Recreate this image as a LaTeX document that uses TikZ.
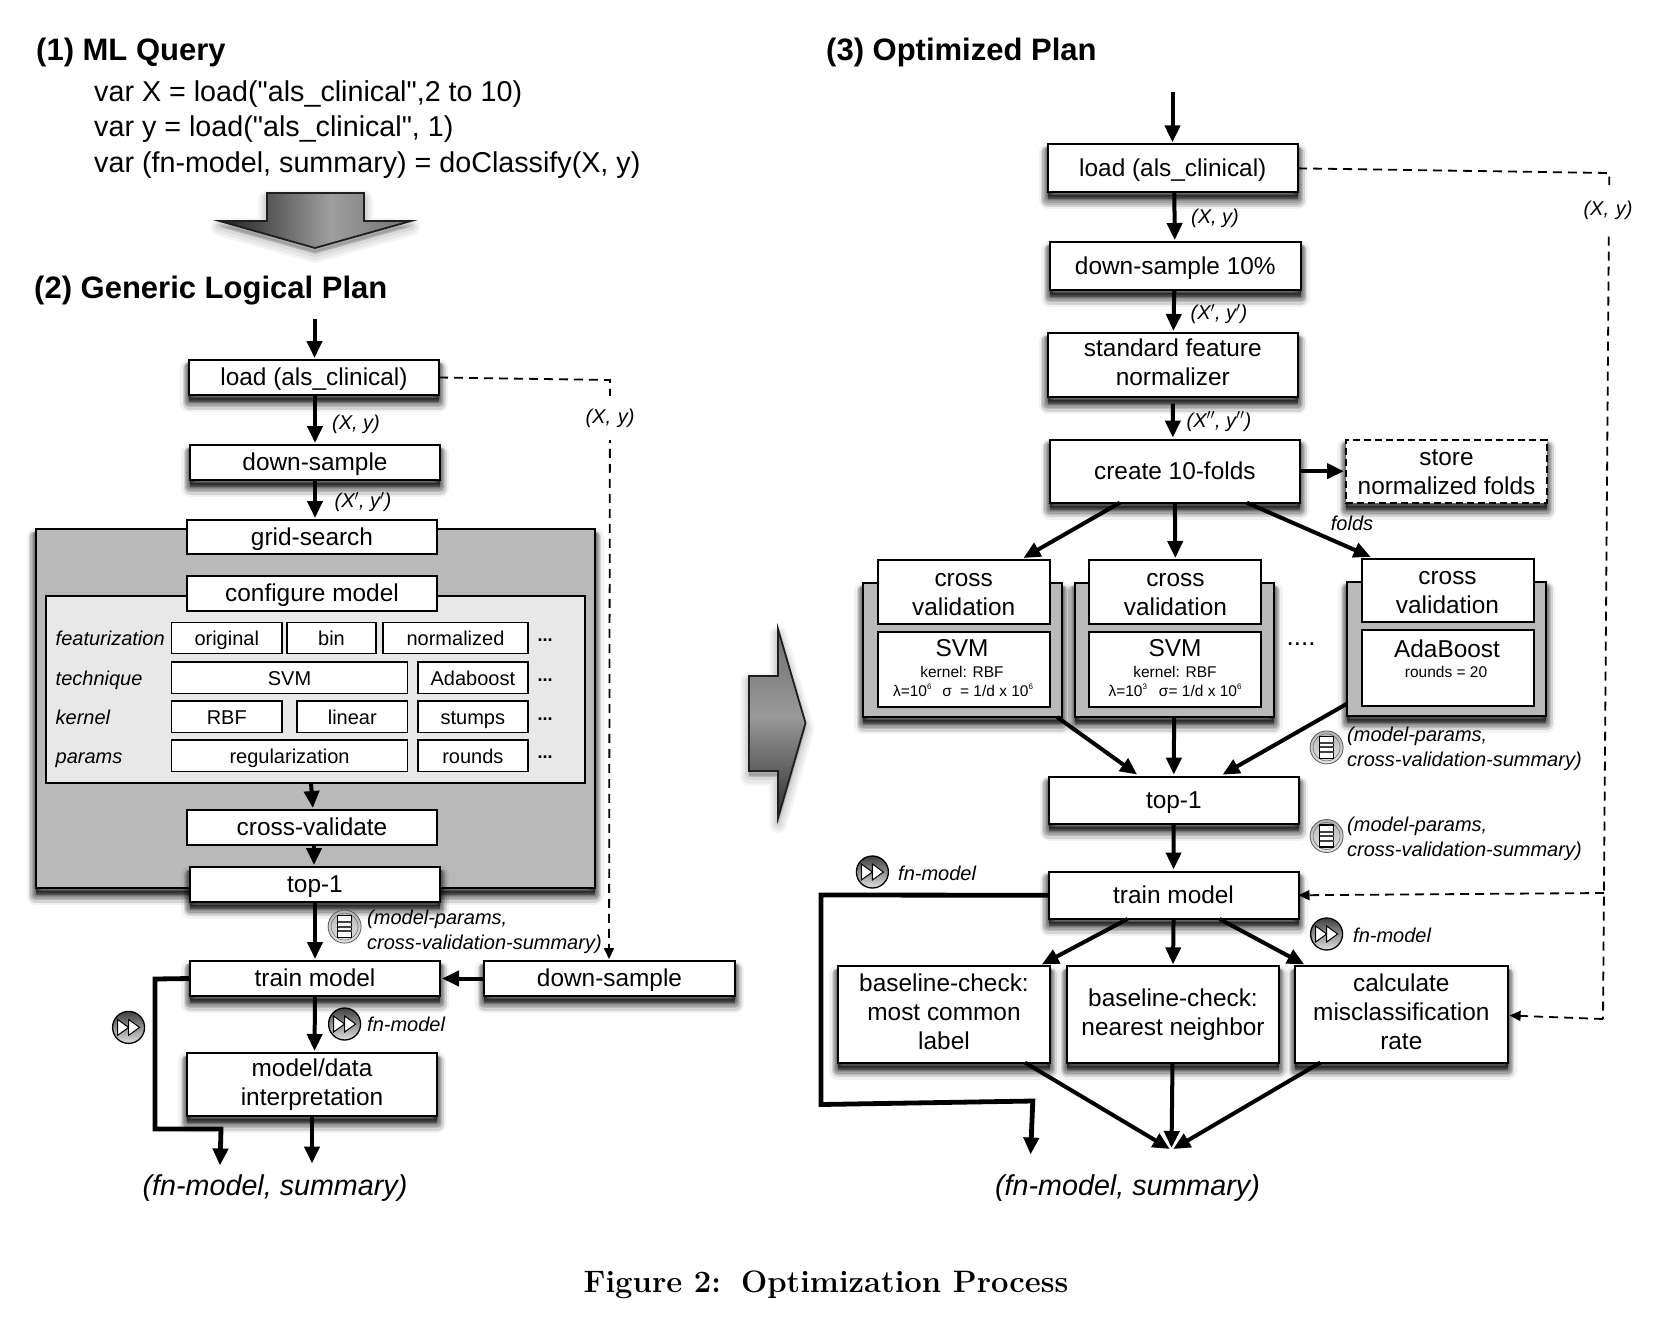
\documentclass[tikz,border=0pt]{standalone}
\usepackage{fontspec}
\usetikzlibrary{arrows.meta,shadings,calc}
\newfontfamily\hv{Liberation Sans}
\definecolor{groupgrey}{HTML}{B9B9B9}
\definecolor{panelgrey}{HTML}{E8E8E8}
\pgfdeclarehorizontalshading{downshade}{100bp}{color(0bp)=(black!88);color(25bp)=(black!88);color(54bp)=(black!38);color(75bp)=(black!56);color(100bp)=(black!56)}
\pgfdeclareverticalshading{rightshade}{100bp}{color(0bp)=(black!82);color(25bp)=(black!82);color(52bp)=(black!40);color(75bp)=(black!56);color(100bp)=(black!56)}
\newcommand\lnstrut{\rule[-.22em]{0pt}{1.1em}}
\newcommand\optstrut{\rule[-.25em]{0pt}{1.25em}}
\newcommand\tallone{\rule{0pt}{.96em}}
\newcommand\supr[1]{\raisebox{.42em}{\fontsize{8}{8}\selectfont #1}}
\tikzset{
  x=1pt,y=-1pt,
  softshadow/.style={
    preaction={solid,draw=black,fill=black,opacity=.05,line width=18pt,line join=round,transform canvas={yshift=-8pt}},
    preaction={solid,draw=black,fill=black,opacity=.12,line width=13pt,line join=round,transform canvas={yshift=-8pt}},
    preaction={solid,draw=black,fill=black,opacity=.12,line width=10.5pt,line join=round,transform canvas={yshift=-7pt}},
    preaction={solid,draw=black,fill=black,opacity=.12,line width=8pt,line join=round,transform canvas={yshift=-7pt}},
    preaction={solid,draw=black,fill=black,opacity=.12,line width=6pt,line join=round,transform canvas={yshift=-6pt}},
    preaction={solid,draw=black,fill=black,opacity=.12,line width=4pt,line join=round,transform canvas={yshift=-5pt}},
    preaction={solid,draw=black,fill=black,opacity=.14,line width=2pt,line join=round,transform canvas={yshift=-4pt}}},
  arrowshadow/.style={
    preaction={draw=black,fill=black,opacity=.04,line width=18pt,line join=round,transform canvas={yshift=-6pt}},
    preaction={draw=black,fill=black,opacity=.05,line width=13pt,line join=round,transform canvas={yshift=-6pt}},
    preaction={draw=black,fill=black,opacity=.06,line width=8pt,line join=round,transform canvas={yshift=-5pt}},
    preaction={draw=black,fill=black,opacity=.08,line width=3pt,line join=round,transform canvas={yshift=-4pt}}},
  box/.style={draw=black,fill=white,line width=2pt,inner sep=0pt,outer sep=0pt,align=center,
    font=\hv\fontsize{24.4}{29}\selectfont,execute at begin node={\lnstrut},execute at end node={\lnstrut}},
  sbox/.style={box,softshadow},
  optbox/.style={box,line width=1.6pt,font=\hv\fontsize{20}{24}\selectfont,execute at begin node={\optstrut},execute at end node={\optstrut}},
  group/.style={draw=black,fill=groupgrey,line width=2pt,inner sep=0pt,outer sep=0pt,softshadow},
  panel/.style={draw=black,fill=panelgrey,line width=1.6pt,inner sep=0pt,outer sep=0pt},
  lab/.style={inner sep=0pt,font=\hv\itshape\fontsize{20}{25}\selectfont,align=left},
  optlab/.style={lab,anchor=base west},
  moredots/.style={inner sep=0pt,font=\hv\bfseries\fontsize{18}{20}\selectfont},
  head/.style={inner sep=0pt,anchor=west,font=\hv\bfseries\fontsize{31}{34}\selectfont},
  codeline/.style={inner sep=0pt,anchor=west,font=\hv\fontsize{28.7}{32}\selectfont},
  result/.style={inner sep=0pt,font=\hv\itshape\fontsize{28.7}{34}\selectfont},
  incell/.style={inner sep=0pt,font=\hv\fontsize{24.4}{28}\selectfont},
  cellsmall/.style={inner sep=0pt,font=\hv\fontsize{15.5}{18}\selectfont},
  flow/.style={draw=black,line width=4pt,-{Triangle[length=17pt,width=15pt]},shorten >=2pt},
  heavy/.style={draw=black,line width=4.8pt,-{Triangle[length=17pt,width=15pt]},line join=miter},
  dashflow/.style={draw=black,line width=1.8pt,dash pattern=on 9pt off 6pt},
  dashhead/.style={-{Triangle[length=11pt,width=10pt]}},
  bigarrow/.style={draw=black!88,line width=1.8pt,line join=miter},
  iconff/.style={circle,draw=black,line width=1.3pt,minimum size=32pt,inner sep=0pt,top color=black!75,bottom color=black!12},
  iconls/.style={circle,draw=black!65,line width=.8pt,minimum size=33pt,inner sep=0pt,top color=black!30,bottom color=black!10},
  ffmark/.style={draw=black,fill=white,line width=1pt,line join=miter},
}
\newcommand\bx[7][box]{%
  \pgfmathsetmacro\bxw{#5-#3}\pgfmathsetmacro\bxh{#6-#4}%
  \pgfmathsetmacro\bxx{(#3+#5)/2}\pgfmathsetmacro\bxy{(#4+#6)/2}%
  \node[#1,minimum width=\bxw pt,minimum height=\bxh pt] (#2) at (\bxx,\bxy) {#7};}
\newcommand\ffic[3]{%
  \node[iconff] (#1) at (#2,#3) {};
  \draw[ffmark] ([xshift=-11pt,yshift=8pt]#1.center) -- ([xshift=0pt]#1.center) -- ([xshift=-11pt,yshift=-8pt]#1.center) -- cycle;
  \draw[ffmark] ([xshift=0pt,yshift=8pt]#1.center) -- ([xshift=11pt]#1.center) -- ([xshift=0pt,yshift=-8pt]#1.center) -- cycle;}
\newcommand\lsic[3]{%
  \node[iconls] (#1) at (#2,#3) {};
  \draw[draw=black!55,line width=.6pt] (#1.center) circle (13.5pt);
  \draw[draw=black,fill=white,line width=1.6pt] ([xshift=-7pt,yshift=11pt]#1.center) rectangle ([xshift=7pt,yshift=-11pt]#1.center);
  \fill[black!75] ([xshift=-7pt,yshift=5.5pt]#1.center) rectangle ([xshift=7pt,yshift=3.5pt]#1.center);
  \fill[black!75] ([xshift=-7pt,yshift=1pt]#1.center) rectangle ([xshift=7pt,yshift=-1pt]#1.center);
  \fill[black!75] ([xshift=-7pt,yshift=-3.5pt]#1.center) rectangle ([xshift=7pt,yshift=-5.5pt]#1.center);}
\begin{document}
\begin{tikzpicture}
\useasboundingbox (0,0) rectangle (1660,1328);
\fill[white] (0,0) rectangle (1660,1328);

% ---------- titles and query
\node[head] (t1) at (36,52.5) {(1) ML Query};
\node[codeline] (c1) at (94,94) {var X = load("als\_clinical",2 to 10)};
\node[codeline] (c2) at (94,129.5) {var y = load("als\_clinical", 1)};
\node[codeline] (c3) at (94,165.5) {var (fn-model, summary) = doClassify(X, y)};
\node[head] (t2) at (34,291) {(2) Generic Logical Plan};
\node[head] (t3) at (826,52.5) {(3) Optimized Plan};

% ---------- big arrows
\path[arrowshadow,fill=black] (267,193) -- (364,193) -- (364,221) -- (411,221) -- (315,248) -- (219.5,221) -- (267,221) -- cycle;
\draw[bigarrow,shading=downshade]
  (267,193) -- (364,193) -- (364,221) -- (411,221) -- (315,248) -- (219.5,221) -- (267,221) -- cycle;
\path[arrowshadow,fill=black] (778,629) -- (805.5,723) -- (778,818) -- (778,771) -- (749,771) -- (749,676) -- (778,676) -- cycle;
\draw[bigarrow,shading=rightshade]
  (778,629) -- (805.5,723) -- (778,818) -- (778,771) -- (749,771) -- (749,676) -- (778,676) -- cycle;

% ---------- left plan: grey grid-search block
\bx[group]{gridblock}{35.5}{529}{594.5}{888}{}
\bx[panel]{cfgpanel}{46}{596}{585}{783}{}
\bx{grid}{187}{520}{437}{554}{grid-search}
\bx{cfg}{187}{576}{437}{611}{configure model}

\node[optlab] (lf) at (55.5,645) {featurization};
\node[optlab] (lt) at (55.5,685) {technique};
\node[optlab] (lk) at (55.5,724) {kernel};
\node[optlab] (lp) at (55.5,763) {params};
\bx[optbox]{o1}{171.5}{622.5}{282}{653.5}{original}
\bx[optbox]{o2}{287}{622.5}{376}{653.5}{bin}
\bx[optbox]{o3}{383}{622.5}{528}{653.5}{normalized}
\bx[optbox]{o4}{171.5}{662}{407.6}{693.6}{SVM}
\bx[optbox]{o5}{417.7}{662}{528}{693.6}{Adaboost}
\bx[optbox]{o6}{171.5}{701}{282}{732.6}{RBF}
\bx[optbox]{o7}{297}{701}{407.6}{732.6}{linear}
\bx[optbox]{o8}{417.7}{701}{528}{732.6}{stumps}
\bx[optbox]{o9}{171.5}{740}{407.6}{771.6}{regularization}
\bx[optbox]{o10}{417.7}{740}{528}{771.6}{rounds}
\node[moredots] (d1) at (545,640.5) {...};
\node[moredots] (d2) at (545,680.5) {...};
\node[moredots] (d3) at (545,719) {...};
\node[moredots] (d4) at (545,757.5) {...};

\bx{cv}{187}{810}{437}{845}{cross-validate}
\bx[sbox]{top}{190}{867}{440}{901.5}{top-1}

% left plan: other boxes
\bx[sbox]{load}{189}{360}{439}{395}{load (als\_clinical)}
\bx[sbox]{ds}{190}{445}{440}{480}{down-sample}
\bx[sbox]{train}{190}{961}{440}{996}{train model}
\bx[sbox]{dstwo}{484}{961}{735}{996}{down-sample}
\bx[sbox]{interp}{187}{1053}{437}{1116}{model/data\\[0pt]interpretation}

\coordinate (entry) at (314.5,318.5);
\coordinate (outa) at (220,1165.5);
\coordinate (outb) at (312,1165.5);
\coordinate (bend1) at (155,979);
\coordinate (bend2) at (155,1129);
\coordinate (bend3) at (221,1129);
\coordinate (dcorner) at (610,380);

\draw[flow] (entry) -- (load.north -| entry);
\draw[flow] (load.south) ++(1,0) -- ([xshift=0pt]ds.north);
\draw[flow] (ds.south) -- ([xshift=0pt]ds.south |- grid.north);
\draw[flow] (cfgpanel.south -| cfg.south) ++(-1,0) -- ([xshift=1pt]cv.north);
\draw[flow] ([xshift=2pt]cv.south) -- ([xshift=-1pt]top.north);
\draw[flow] (top.south) -- (train.north);
\draw[flow] (train.south) -- ([xshift=2.5pt]interp.north);
\draw[flow] (interp.south) -- (outb);
\draw[flow] (dstwo.west) -- (train.east);
\draw[heavy] (train.west) -- (bend1) -- (bend2) -- (bend3) -- (outa);
\draw[dashflow,dashhead,shorten >=2pt] (load.east) -- (dcorner) -- ([xshift=-.5pt]dstwo.north);

\node[lab,fill=white,minimum height=44pt,text width=54pt,align=center] (lx1) at (610,418) {(X, y)};
\node[lab] (lx2) at (356,424) {(X, y)};
\node[lab] (lx3) at (363,502) {(X$'$, y$'$)};
\lsic{iA}{344.6}{926.6}
\node[lab,anchor=north west] (lm1) at (367,910) {(model-params,\\cross-validation-summary)};
\ffic{iB}{128.6}{1027.4}
\ffic{iC}{344.6}{1024}
\node[lab,anchor=west] (lfn) at (367,1024.5) {fn-model};
\node[result] (resl) at (275,1188) {(fn-model, summary)};

% ---------- right plan: main column
\bx[sbox]{rload}{1047.6}{144.4}{1298}{192.3}{load (als\_clinical)}
\bx[sbox]{rds}{1050}{242}{1300.6}{290}{down-sample 10\%}
\bx[sbox]{rnorm}{1047.6}{333}{1298}{397}{standard feature\\[0pt]normalizer}
\bx[sbox]{rfold}{1049.7}{439.6}{1300}{502.7}{create 10-folds}
\bx[sbox,dash pattern=on 7pt off 4pt]{rstore}{1346}{439.6}{1547}{502.7}{\tallone store\\[0pt]normalized folds}

% cross-validation groups
\bx[group]{g1}{863}{583}{1062}{717}{}
\bx{cv1}{877.6}{560}{1049.7}{623.5}{\tallone cross\\[0pt]validation}
\bx{m1}{877.6}{631.5}{1049.7}{707}{}
\node[incell] (m1a) at (962,648) {SVM};
\node[cellsmall] (m1b) at (962,671.5) {kernel: RBF};
\node[cellsmall] (m1c) at (963,690.5) {λ=10\supr{6}\hspace{11pt}σ\hspace{8pt}= 1/d x 10\supr{6}};

\bx[group]{g2}{1074.6}{583}{1273.6}{717}{}
\bx{cv2}{1089.4}{560}{1261.4}{623.5}{\tallone cross\\[0pt]validation}
\bx{m2}{1089.4}{631.5}{1261.4}{707}{}
\node[incell] (m2a) at (1175,648) {SVM};
\node[cellsmall] (m2b) at (1175,671.5) {kernel: RBF};
\node[cellsmall] (m2c) at (1175,690.5) {λ=10\supr{3}\hspace{12pt}σ= 1/d x 10\supr{6}};

\bx[group]{g3}{1347}{581.5}{1546}{715.7}{}
\bx{cv3}{1361.5}{558.7}{1533.5}{621.8}{\tallone cross\\[0pt]validation}
\bx{m3}{1361.5}{630}{1533.5}{706}{}
\node[incell] (m3a) at (1447,649) {AdaBoost};
\node[cellsmall] (m3b) at (1446,671.5) {rounds = 20};
\node[inner sep=0pt,font=\hv\fontsize{26}{28}\selectfont] (dots) at (1301,644) {....};

\bx[sbox]{rtop}{1048.6}{776.7}{1299}{824}{top-1}
\bx[sbox]{rtrain}{1048.6}{871.5}{1298.5}{919}{train model}
\bx[sbox]{bc1}{838}{966.4}{1050}{1062.6}{baseline-check:\\[0pt]most common\\[0pt]label}
\bx[sbox]{bc2}{1067}{966.4}{1279}{1062.6}{baseline-check:\\[0pt]nearest neighbor}
\bx[sbox]{bc3}{1295}{966.4}{1507.6}{1062.6}{calculate\\[0pt]misclassification\\[0pt]rate}

\coordinate (rentry) at (1172.5,92);
\coordinate (rsum) at (1171.5,1150);
\coordinate (rout) at (1030.6,1154.5);
\coordinate (rb1) at (821,895);
\coordinate (rb2) at (821,1104.5);
\coordinate (rb3) at (1032.8,1101);
\coordinate (rd1) at (1609.3,173);
\coordinate (rd2) at (1603,1019);
\coordinate (rd3) at (1604,893);

\draw[flow] (rentry) -- ([xshift=0pt]rentry |- rload.north);
\draw[flow] ([xshift=1.5pt]rload.south) -- ([xshift=-.5pt]rds.north);
\draw[flow] ([xshift=-1pt]rds.south) -- ([xshift=.5pt]rnorm.north);
\draw[flow] ([xshift=0pt,yshift=-6.5pt]rnorm.south) -- ([xshift=-2pt]rfold.north);
\draw[flow] (rfold.east) -- (rstore.west);
\draw[flow] ([xshift=-55pt]rfold.south) -- ([xshift=58pt,yshift=1pt]cv1.north);
\draw[flow] (rfold.south) -- (cv2.north);
\draw[flow] ([xshift=72pt]rfold.south) -- ([xshift=-75pt,yshift=1pt]cv3.north);
\draw[flow] ([xshift=-5pt]g1.south east) -- ([xshift=-35pt,yshift=1pt]rtop.north);
\draw[flow] (g2.south) -- ([xshift=0pt]rtop.north);
\draw[flow] ([yshift=12pt]g3.south west) -- ([xshift=47pt,yshift=1pt]rtop.north);
\draw[flow] ([xshift=-.2pt]rtop.south) -- ([xshift=0pt]rtrain.north);
\draw[flow] ([xshift=-46pt]rtrain.south) -- ([xshift=-10pt,yshift=1pt]bc1.north east);
\draw[flow] ([xshift=0pt]rtrain.south) -- ([xshift=0pt]bc2.north);
\draw[flow] ([xshift=46pt]rtrain.south) -- ([xshift=11pt,yshift=1pt]bc3.north west);
\draw[flow] ([xshift=81pt]bc1.south) -- (rsum);
\draw[flow] ([xshift=-.5pt]bc2.south) -- (rsum);
\draw[flow] ([xshift=-81pt]bc3.south) -- (rsum);
\draw[heavy] (rtrain.west) -- (rb1) -- (rb2) -- (rb3) -- (rout);
\draw[dashflow] (rload.east) -- (rd1) -- (rd2);
\draw[dashflow,dashhead] (rd2) -- ([xshift=2pt,yshift=-1pt]bc3.east);
\draw[dashflow,dashhead] (rd3) -- (rtrain.east);

\node[lab,fill=white,minimum height=50pt,text width=54pt,align=center] (rlx) at (1608,210) {(X, y)};
\node[lab] (rl1) at (1215,218) {(X, y)};
\node[lab] (rl2) at (1219,314) {(X$'$, y$'$)};
\node[lab] (rl3) at (1219,421.5) {(X$''$, y$''$)};
\node[lab] (rl4) at (1352,523.5) {folds};
\lsic{ri1}{1326.6}{747.4}
\node[lab,anchor=north west] (rl5) at (1347,727) {(model-params,\\cross-validation-summary)};
\lsic{ri2}{1326.6}{836}
\node[lab,anchor=north west] (rl6) at (1347,817) {(model-params,\\cross-validation-summary)};
\ffic{ri3}{872.4}{872}
\node[lab,anchor=west] (rl7) at (898,873.5) {fn-model};
\ffic{ri4}{1326.6}{934}
\node[lab,anchor=west] (rl8) at (1353,935) {fn-model};
\node[result] (resr) at (1127.5,1188) {(fn-model, summary)};

% ---------- caption
\node[inner sep=0pt,font=\normalfont\bfseries\fontsize{31}{34}\selectfont] (cap) at (826,1285) {Figure 2:\hspace{.65em}Optimization Process};
\end{tikzpicture}
\end{document}
